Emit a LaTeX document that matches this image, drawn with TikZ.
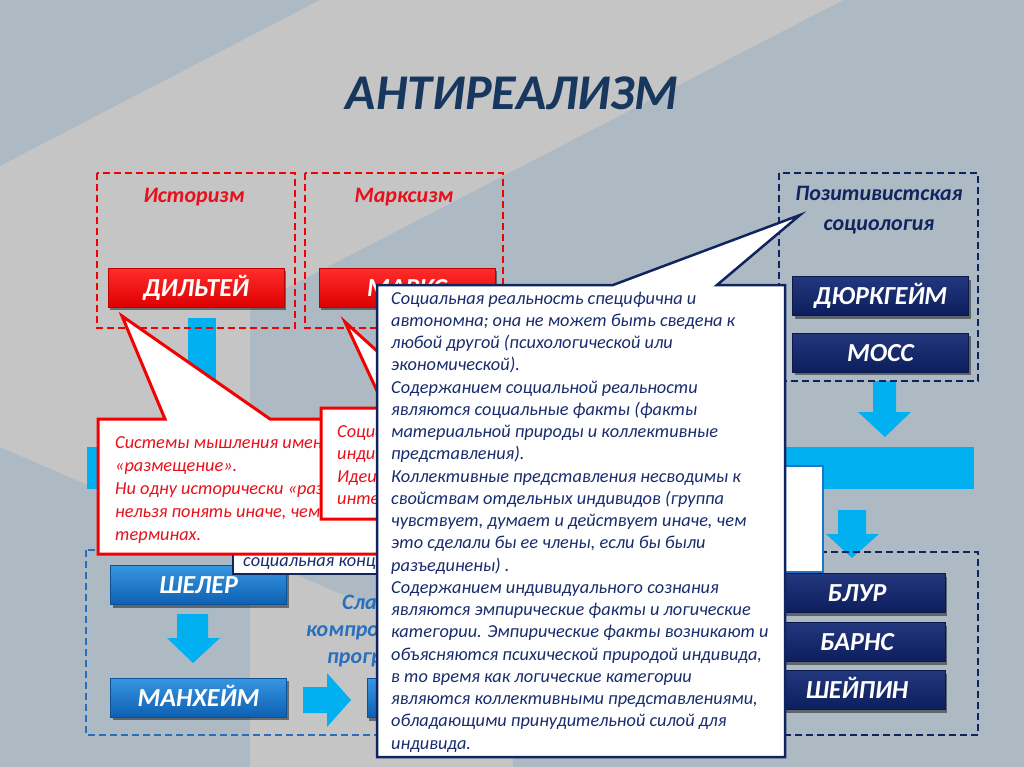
\documentclass[tikz,border=0pt]{standalone}
\usepackage{fontspec}
\setmainfont{Carlito}
\usetikzlibrary{shadows}
\definecolor{bgA}{RGB}{174,186,195}
\definecolor{bgB}{RGB}{197,197,197}
\definecolor{cyanC}{RGB}{0,176,240}
\definecolor{redL}{RGB}{245,0,0}
\definecolor{redT}{RGB}{232,16,26}
\definecolor{redTop}{RGB}{255,45,45}
\definecolor{redBot}{RGB}{222,0,0}
\definecolor{navyL}{RGB}{16,36,96}
\definecolor{navyT}{RGB}{24,44,110}
\definecolor{titleC}{RGB}{23,55,94}
\definecolor{navyTop}{RGB}{35,55,125}
\definecolor{navyBot}{RGB}{12,30,92}
\definecolor{blueTop}{RGB}{55,150,225}
\definecolor{blueBot}{RGB}{14,96,178}
\definecolor{blueL}{RGB}{38,112,185}
\definecolor{blueT}{RGB}{40,112,190}
\definecolor{boxBlue}{RGB}{30,115,205}
\newcommand{\myCallFont}{\fontsize{18.3}{22}\selectfont\itshape}
\begin{document}
\begin{tikzpicture}[x=1pt,y=-1pt,
  redbox/.style={draw=redL, line width=2.5pt, dash pattern=on 7pt off 4pt},
  navybox/.style={draw=navyL, line width=2.5pt, dash pattern=on 7pt off 4pt},
  bluebox/.style={draw=blueL, line width=2.5pt, dash pattern=on 7pt off 4pt},
  btn/.style={minimum width=176pt, minimum height=39pt, inner sep=0pt, text=white,
    font=\fontsize{26}{26}\selectfont\bfseries\itshape, text height=17pt, text depth=0pt,
    drop shadow={shadow xshift=2pt, shadow yshift=-3pt, opacity=0.45, fill=black}},
  redbtn/.style={btn, top color=redTop, bottom color=redBot, draw=redBot!85!black, line width=0.8pt},
  navybtn/.style={btn, top color=navyTop, bottom color=navyBot, draw=navyBot!80!black, line width=0.8pt},
  bluebtn/.style={btn, top color=blueTop, bottom color=blueBot, draw=blueBot!85!black, line width=0.8pt},
  grouplabel/.style={font=\fontsize{22}{26}\selectfont\bfseries\itshape, anchor=base, inner sep=0pt},
  ntext/.style={font=\myCallFont, text=navyT, anchor=base west, inner sep=0pt},
  rtext/.style={font=\myCallFont, text=redT, anchor=base west, inner sep=0pt},
  cyanfill/.style={fill=cyanC, draw=none},
  callred/.style={fill=white, draw=redL, line width=3pt, line join=miter},
  callnavy/.style={fill=white, draw=navyL, line width=2.5pt, line join=miter}
]
% background
\fill[bgA] (0,0) rectangle (1024,767);
\fill[bgB] (320,0) -- (843,0) -- (250,307) -- (250,555) -- (0,447) -- (0,166) -- cycle;
\fill[bgB] (250,555) -- (513,668) -- (513,767) -- (250,767) -- cycle;
\useasboundingbox (0,0) rectangle (1024,767);

% title
\node[font=\fontsize{50}{56}\selectfont\bfseries\itshape, text=titleC, anchor=base, inner sep=0pt] (title) at (512,110) {АНТИРЕАЛИЗМ};

% cyan bar and arrows
\fill[cyanfill] (87,447) rectangle (974,489);
\fill[cyanfill] (188,318) rectangle (216,447);
\fill[cyanfill] (873,381) -- (896,381) -- (896,412) -- (911,412) -- (885,437) -- (858,412) -- (873,412) -- cycle;
\fill[cyanfill] (838,510) -- (866,510) -- (866,534) -- (879,534) -- (852,558) -- (826,534) -- (838,534) -- cycle;
\fill[cyanfill] (177,614) -- (208,614) -- (208,638) -- (220,638) -- (193,663) -- (167,638) -- (177,638) -- cycle;
\fill[cyanfill] (303,687) -- (327,687) -- (327,673) -- (351,700) -- (327,727) -- (327,713) -- (303,713) -- cycle;

% dashed group boxes
\draw[redbox] (97,173) rectangle (295,328);
\draw[redbox] (305,173) rectangle (503,328);
\draw[navybox] (779,173) rectangle (978,381);
\draw[bluebox] (86,550) rectangle (560,735);
\draw[navybox] (560,552) rectangle (978,735);

% group labels
\node[grouplabel, text=redT] (hist) at (194,203) {Историзм};
\node[grouplabel, text=redT] (marx) at (404,203) {Марксизм};
\node[grouplabel, text=navyL] (pos1) at (879,201) {Позитивистская};
\node[grouplabel, text=navyL] (pos2) at (879,230) {социология};
\node[grouplabel, text=blueT, anchor=base west] (weak1) at (342,609) {Слаб};
\node[grouplabel, text=blueT, anchor=base west] (weak2) at (306,636) {компро};
\node[grouplabel, text=blueT, anchor=base west] (weak3) at (327,663) {прогр};

% buttons
\node[redbtn] (dilthey) at (196,287.5) {ДИЛЬТЕЙ};
\node[redbtn] (marks) at (407,287.5) {МАРКС};
\node[navybtn] (durk) at (880.5,296) {ДЮРКГЕЙМ};
\node[navybtn] (moss) at (880.5,352.5) {МОСС};
\node[bluebtn] (scheler) at (198.5,585) {ШЕЛЕР};
\node[bluebtn] (mannh) at (198.5,697.5) {МАНХЕЙМ};
\node[bluebtn] (hiddenbtn) at (455,698) {};
\node[navybtn] (bloor) at (857,593) {БЛУР};
\node[navybtn] (barnes) at (857,642) {БАРНС};
\node[navybtn] (shapin) at (857,690) {ШЕЙПИН};

% partly hidden white boxes
\draw[fill=white, draw=boxBlue, line width=2.5pt] (650,466) rectangle (823,572);
\draw[fill=white, draw=navyL, line width=2.5pt] (233,470) rectangle (520,574);
\node[ntext] (soc) at (243,566) {социальная конце};

% red callout 1
\draw[callred] (98,419) -- (165,419) -- (122,316) -- (270,419) -- (400,419) -- (400,554) -- (98,554) -- cycle;
\foreach \t [count=\i] in {
 {Системы мышления имену},
 {«размещение».},
 {Ни одну исторически «разм},
 {нельзя понять иначе, чем в},
 {терминах.}}
{\node[rtext] (ra\i) at (115,{448+(\i-1)*23}) {\t};}

% red callout 2
\draw[callred] (321,408) -- (385,408) -- (345,322) -- (440,408) -- (520,408) -- (520,519) -- (321,519) -- cycle;
\foreach \t [count=\i] in {
 {Социа},
 {индив},
 {Идеи},
 {интер}}
{\node[rtext] (rb\i) at (337,{437+(\i-1)*22.5}) {\t};}

% navy callout
\draw[callnavy] (377,285) -- (613,285) -- (800,215) -- (717,285) -- (785,285) -- (785,757) -- (377,757) -- cycle;
\foreach \t [count=\i] in {
 {Социальная реальность специфична и},
 {автономна; она не может быть сведена к},
 {любой другой (психологической или},
 {экономической).},
 {Содержанием социальной реальности},
 {являются социальные факты (факты},
 {материальной природы и коллективные},
 {представления).},
 {Коллективные представления несводимы к},
 {свойствам отдельных индивидов (группа},
 {чувствует, думает и действует иначе, чем},
 {это сделали бы ее члены, если бы были},
 {разъединены) .},
 {Содержанием индивидуального сознания},
 {являются эмпирические факты и логические},
 {категории. Эмпирические факты возникают и},
 {объясняются психической природой индивида,},
 {в то время как логические категории},
 {являются коллективными представлениями,},
 {обладающими принудительной силой для},
 {индивида.}}
{\node[ntext] (nl\i) at (391,{304+(\i-1)*22.25}) {\t};}
\end{tikzpicture}
\end{document}
